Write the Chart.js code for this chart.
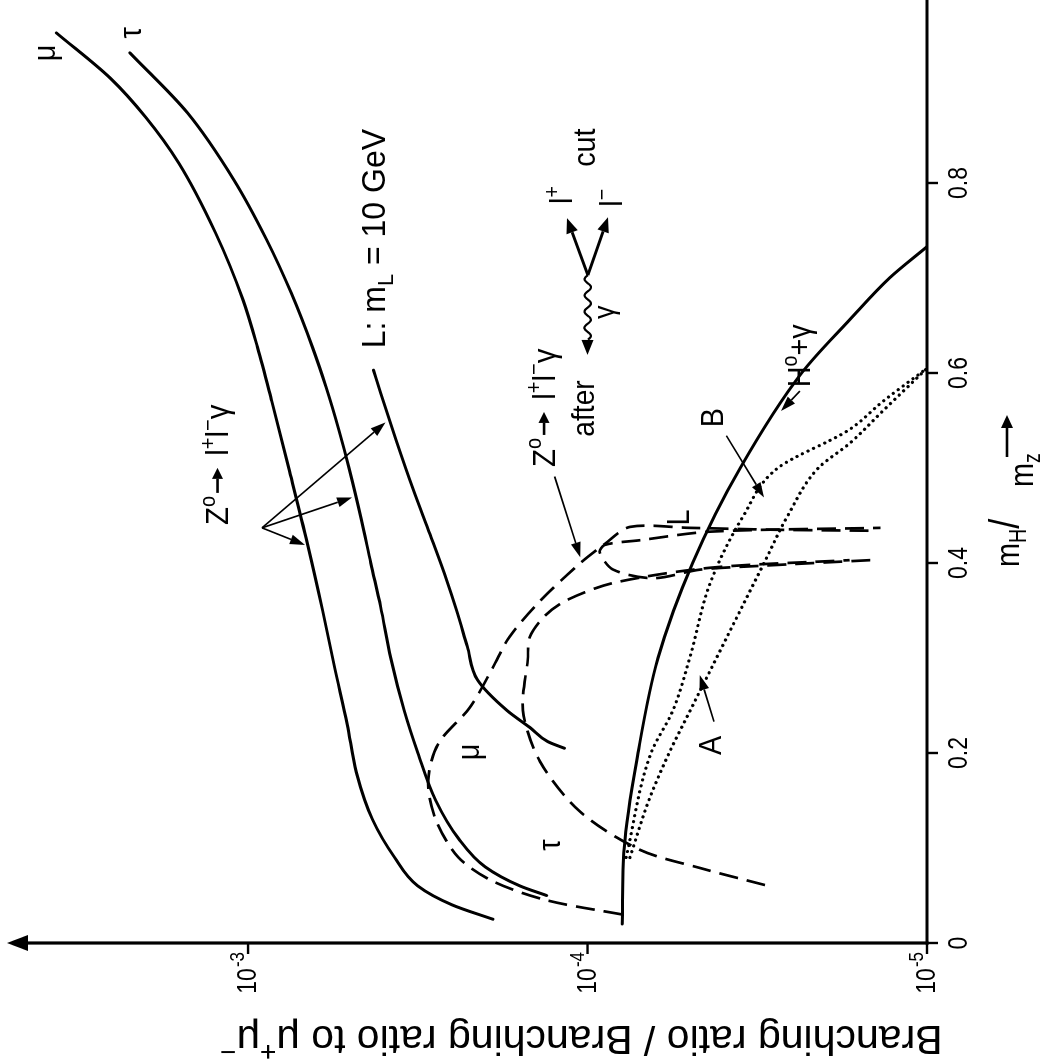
<!DOCTYPE html>
<html>
<head>
<meta charset="utf-8">
<title>Z decay branching ratios</title>
<script src="https://cdn.jsdelivr.net/npm/chart.js@4.4.1/dist/chart.umd.min.js"></script>
<style>
  html, body { margin:0; padding:0; background:#fff; width:1041px; height:1059px; overflow:hidden; }
  /* the figure is laid out landscape and turned a quarter turn counter-clockwise */
  #sheet { position:absolute; left:0; top:0; width:1059px; height:1041px; background:#fff;
           transform-origin:0 0; transform:translate(0,1059px) rotate(-90deg); }
  canvas { display:block; }
</style>
</head>
<body>
<div id="sheet"><canvas id="fig" width="1059" height="1041"></canvas></div>
<script>
// abscissa: m_H / m_Z ; ordinate: branching ratio relative to Z -> mu+ mu-

// Z -> l+ l- gamma (solid)
const muM    = [0.025,0.04,0.06,0.09,0.13,0.18,0.23,0.29,0.35,0.42,0.50,0.57,0.627,0.677,0.747,0.821,0.869,0.91,0.958];
const muBR   = [1.9e-4,2.5e-4,3.16e-4,3.7e-4,4.3e-4,4.8e-4,5.1e-4,5.56e-4,6.03e-4,6.68e-4,7.59e-4,8.51e-4,9.38e-4,1.035e-3,1.245e-3,1.60e-3,2.0e-3,2.54e-3,3.67e-3];
const tauM   = [0.05,0.06,0.08,0.11,0.15,0.2,0.245,0.30,0.354,0.40,0.445,0.50,0.54,0.585,0.627,0.684,0.74,0.803,0.874,0.937];
const tauBR  = [1.32e-4,1.58e-4,2.0e-4,2.4e-4,2.8e-4,3.16e-4,3.47e-4,3.8e-4,4.07e-4,4.35e-4,4.63e-4,5.04e-4,5.4e-4,5.89e-4,6.46e-4,7.46e-4,8.81e-4,1.10e-3,1.51e-3,2.23e-3];
const heavyM  = [0.205,0.212,0.227,0.245,0.277,0.312,0.35,0.382,0.43,0.477,0.53,0.579,0.603];
const heavyBR = [1.17e-4,1.31e-4,1.48e-4,1.73e-4,2.11e-4,2.26e-4,2.43e-4,2.6e-4,2.91e-4,3.26e-4,3.67e-4,4.07e-4,4.27e-4];

// Z -> H0 gamma (solid)
const higgsM  = [0.02,0.1,0.2,0.3,0.4,0.5,0.6,0.656,0.7,0.733];
const higgsBR = [7.9e-5,7.8e-5,7.1e-5,6.2e-5,4.9e-5,3.55e-5,2.34e-5,1.69e-5,1.29e-5,1.0e-5];

// H0 gamma with cuts A and B (dotted)
const cutAM  = [0.09,0.15,0.2,0.25,0.3,0.35,0.4,0.45,0.5,0.526,0.56,0.605];
const cutABR = [7.5e-5,6.6e-5,5.75e-5,4.9e-5,4.17e-5,3.55e-5,3.02e-5,2.57e-5,2.09e-5,1.69e-5,1.35e-5,1.0e-5];
const cutBM  = [0.09,0.2,0.245,0.3,0.379,0.45,0.5,0.54,0.57,0.605];
const cutBBR = [7.7e-5,6.5e-5,5.6e-5,5.0e-5,4.35e-5,3.47e-5,2.75e-5,1.7e-5,1.35e-5,1.0e-5];

// Z -> l+ l- gamma after the cut (dashed)
const muCutM   = [0.03,0.045,0.065,0.09,0.13,0.17,0.21,0.248,0.29,0.322,0.36,0.40,0.42,0.438,0.437,0.435,0.434];
const muCutBR  = [7.9e-5,1.32e-4,1.9e-4,2.4e-4,2.8e-4,2.95e-4,2.75e-4,2.22e-4,1.9e-4,1.7e-4,1.38e-4,1.05e-4,8.9e-5,7.5e-5,5.0e-5,2.8e-5,1.48e-5];
const tauCutM  = [0.061,0.079,0.098,0.138,0.191,0.245,0.298,0.322,0.345,0.361,0.379,0.395,0.403];
const tauCutBR = [3.0e-5,4.67e-5,7.0e-5,1.05e-4,1.38e-4,1.55e-4,1.5e-4,1.48e-4,1.33e-4,1.15e-4,8.4e-5,4.35e-5,1.69e-5];
const heavyCutM  = [0.403,0.397,0.393,0.384,0.393,0.411,0.419,0.424,0.433,0.437];
const heavyCutBR = [1.47e-5,3.1e-5,4.67e-5,6.4e-5,8.4e-5,9.2e-5,8.9e-5,7.0e-5,4.35e-5,1.37e-5];

// axes
const xTicks      = [0, 0.2, 0.4, 0.6, 0.8];
const xTickLabels = ['0', '0.2', '0.4', '0.6', '0.8'];
const yTicks      = [1e-5, 1e-4, 1e-3];
const yTickExps   = ['-5', '-4', '-3'];

const FONT = '"Liberation Sans", Arial, Helvetica, sans-serif';
const INK = '#000';

const pts = (m, b) => m.map((v, i) => ({ x: v, y: b[i] }));
const line = (data, extra) => Object.assign({
  data, showLine: true, pointRadius: 0, borderColor: INK, borderWidth: 3,
  fill: false, cubicInterpolationMode: 'monotone', borderCapStyle: 'round', borderJoinStyle: 'round'
}, extra || {});
const dashed = { borderWidth: 2.7, borderDash: [19, 9], borderCapStyle: 'butt', cubicInterpolationMode: 'default', tension: 0.3 };
const dotted = { borderWidth: 3.2, borderDash: [0.1, 6], borderCapStyle: 'round' };

// ---------- drawing helpers ----------
function arrow(ctx, x1, y1, x2, y2, lw, hl, hw) {
  const a = Math.atan2(y2 - y1, x2 - x1);
  const bx = x2 - hl * Math.cos(a), by = y2 - hl * Math.sin(a);
  ctx.lineWidth = lw;
  ctx.beginPath(); ctx.moveTo(x1, y1); ctx.lineTo(bx, by); ctx.stroke();
  ctx.beginPath(); ctx.moveTo(x2, y2);
  ctx.lineTo(bx + hw * Math.sin(a), by - hw * Math.cos(a));
  ctx.lineTo(bx - hw * Math.sin(a), by + hw * Math.cos(a));
  ctx.closePath(); ctx.fill();
}

function photon(ctx, x1, y1, x2, y2) {
  const dx = x2 - x1, dy = y2 - y1, L = Math.hypot(dx, dy);
  const ux = dx / L, uy = dy / L, nx = -uy, ny = ux;
  const hl = 15, wl = L - hl, amp = 3.2, waves = 4;
  ctx.lineWidth = 2.2;
  ctx.beginPath();
  for (let s = 0; s <= wl; s += 0.5) {
    const o = amp * Math.sin(2 * Math.PI * waves * s / wl);
    ctx.lineTo(x1 + ux * s + nx * o, y1 + uy * s + ny * o);
  }
  ctx.stroke();
  arrow(ctx, x1 + ux * wl, y1 + uy * wl, x2, y2, 2.2, hl, 6);
}

// text runs with super/subscripts and inline arrows
function runs(ctx, parts, x, y, size, sx, align) {
  const items = parts.map(p => typeof p === 'string' ? { t: p } : p);
  const fs = it => size * (it.sup || it.sub ? 0.68 : 1) * (it.scale || 1);
  const width = it => {
    if (it.arrow) return it.arrow + 8;
    ctx.font = fs(it) + 'px ' + FONT;
    return ctx.measureText(it.t).width * sx + (it.gap || 0);
  };
  const total = items.reduce((a, it) => a + width(it), 0);
  let cx = align === 'center' ? x - total / 2 : align === 'right' ? x - total : x;
  for (const it of items) {
    const w = width(it);
    if (it.arrow) {
      arrow(ctx, cx + 3, y - size * 0.33, cx + it.arrow + 4, y - size * 0.33, 2.6, 11, 5.5);
    } else {
      const dy = it.sup ? -size * 0.42 : it.sub ? size * 0.22 : 0;
      ctx.save();
      ctx.translate(cx, y + dy); ctx.scale(sx, 1);
      ctx.font = fs(it) + 'px ' + FONT;
      ctx.textAlign = 'left'; ctx.textBaseline = 'alphabetic';
      ctx.fillText(it.t, 0, 0);
      ctx.restore();
    }
    cx += w;
  }
  return total;
}

// ---------- annotation anchors (data coordinates: m, ratio) ----------
const curveNames = [
  { t: 'μ', m: 0.937, r: 3.99e-3 },
  { t: 'τ', m: 0.958, r: 2.23e-3 },
  { t: 'μ', m: 0.201, r: 2.25e-4 },
  { t: 'τ', m: 0.103, r: 1.30e-4 },
  { t: 'L', m: 0.448, r: 5.4e-5 },
  { t: 'A', m: 0.208, r: 4.35e-5 },
  { t: 'B', m: 0.553, r: 4.3e-5 }
];
const pointers = [
  { from: [0.437, 9.1e-4], to: [0.419, 6.8e-4] },
  { from: [0.437, 9.1e-4], to: [0.469, 4.94e-4] },
  { from: [0.437, 9.1e-4], to: [0.548, 3.94e-4] },
  { from: [0.491, 1.25e-4], to: [0.406, 1.05e-4] },
  { from: [0.233, 4.24e-5], to: [0.282, 4.67e-5] },
  { from: [0.534, 3.9e-5],  to: [0.469, 3.02e-5] },
  { from: [0.581, 2.37e-5], to: [0.560, 2.69e-5] }
];

const decorations = {
  id: 'decorations',
  afterDraw(chart) {
    const ctx = chart.ctx, xs = chart.scales.x, ys = chart.scales.y, area = chart.chartArea;
    const P = (m, r) => [xs.getPixelForValue(m), ys.getPixelForValue(r)];
    const x0 = xs.getPixelForValue(0), y0 = ys.getPixelForValue(1e-5);
    ctx.save();
    ctx.strokeStyle = INK; ctx.fillStyle = INK; ctx.lineCap = 'butt';

    // axes
    ctx.lineWidth = 3.2;
    ctx.beginPath(); ctx.moveTo(x0 - 1.5, y0); ctx.lineTo(chart.width, y0); ctx.stroke();
    const tipY = area.top;
    ctx.beginPath(); ctx.moveTo(x0, y0 + 1.5); ctx.lineTo(x0, tipY + 18); ctx.stroke();
    ctx.beginPath(); ctx.moveTo(x0, tipY); ctx.lineTo(x0 - 8, tipY + 21); ctx.lineTo(x0 + 8, tipY + 21);
    ctx.closePath(); ctx.fill();

    // x ticks
    ctx.lineWidth = 2.4;
    xTicks.forEach((v, i) => {
      const px = xs.getPixelForValue(v);
      ctx.beginPath(); ctx.moveTo(px, y0); ctx.lineTo(px, y0 + 11); ctx.stroke();
      runs(ctx, [xTickLabels[i]], px, y0 + 40, 28, 0.82, 'center');
    });
    // y ticks
    yTicks.forEach((v, i) => {
      const py = ys.getPixelForValue(v);
      ctx.lineWidth = 2.4;
      ctx.beginPath(); ctx.moveTo(x0, py); ctx.lineTo(x0 - 11, py); ctx.stroke();
      const ew = runs(ctx, [yTickExps[i]], x0 - 9, py - 4, 20, 0.85, 'right');
      runs(ctx, ['10'], x0 - 10 - ew, py + 8, 28, 0.82, 'right');
    });

    // axis titles
    runs(ctx, ['m', { t: 'H', sub: true }, { t: '/', scale: 1.25 }], area.left + 376, area.bottom + 92, 34, 0.85, 'left');
    runs(ctx, ['m', { t: 'z', sub: true }], area.left + 456, area.bottom + 106, 34, 0.85, 'left');
    ctx.lineWidth = 2.6;
    arrow(ctx, area.left + 486, area.bottom + 80, area.left + 528, area.bottom + 80, 2.6, 13, 6);

    ctx.save();
    ctx.translate(33, 220);
    ctx.rotate(-Math.PI / 2);
    runs(ctx, ['Branching ratio / Branching ratio to μ', { t: '+', sup: true }, 'μ', { t: '−', sup: true }], 0, 0, 41, 1.0, 'right');
    ctx.restore();

    // curve names
    curveNames.forEach(c => {
      const [px, py] = P(c.m, c.r);
      runs(ctx, [c.t], px, py + 11, 32, 0.9, 'center');
    });

    // pointers
    ctx.lineWidth = 1.7;
    pointers.forEach(p => {
      const [ax, ay] = P(p.from[0], p.from[1]);
      const [bx, by] = P(p.to[0], p.to[1]);
      arrow(ctx, ax, ay, bx, by, 1.7, 15, 5);
    });

    // text labels
    let [tx, ty] = P(0.626, 3.94e-4);
    runs(ctx, ['L: m', { t: 'L', sub: true }, ' = 10 GeV'], tx, ty, 33, 0.97, 'left');

    [tx, ty] = P(0.44, 1.145e-3);
    runs(ctx, ['Z', { t: 'o', sup: true }, { arrow: 24 }, ' l', { t: '+', sup: true }, 'l', { t: '−', sup: true }, 'γ'], tx, ty, 32, 0.92, 'left');

    [tx, ty] = P(0.501, 1.25e-4);
    runs(ctx, ['Z', { t: 'o', sup: true }, { arrow: 22 }, ' l', { t: '+', sup: true }, 'l', { t: '−', sup: true }, 'γ'], tx, ty, 32, 0.92, 'left');
    [tx, ty] = P(0.533, 9.6e-5);
    runs(ctx, ['after'], tx, ty, 32, 0.88, 'left');

    // photon conversion sketch
    const [vx, vy] = P(0.703, 9.98e-5);
    const [gx, gy] = P(0.619, 1.0e-4);
    photon(ctx, vx, vy, gx, gy);
    const [l1x, l1y] = P(0.763, 1.15e-4);
    const [l2x, l2y] = P(0.764, 8.7e-5);
    arrow(ctx, vx, vy, l1x, l1y, 2.8, 15, 6);
    arrow(ctx, vx, vy, l2x, l2y, 2.8, 15, 6);
    [tx, ty] = P(0.778, 1.11e-4);
    runs(ctx, ['l', { t: '+', sup: true }], tx, ty, 32, 0.9, 'left');
    [tx, ty] = P(0.775, 7.9e-5);
    runs(ctx, ['l', { t: '−', sup: true }], tx, ty, 32, 0.9, 'left');
    [tx, ty] = P(0.664, 8.35e-5);
    runs(ctx, ['γ'], tx, ty, 30, 0.9, 'center');
    [tx, ty] = P(0.817, 9.5e-5);
    runs(ctx, ['cut'], tx, ty, 32, 0.9, 'left');

    [tx, ty] = P(0.585, 2.21e-5);
    runs(ctx, ['H', { t: 'o', sup: true }, '+γ'], tx, ty, 32, 0.9, 'left');

    ctx.restore();
  }
};

new Chart(document.getElementById('fig'), {
  type: 'scatter',
  data: {
    datasets: [
      line(pts(muCutM, muCutBR), dashed),
      line(pts(tauCutM, tauCutBR), dashed),
      line(pts(heavyCutM, heavyCutBR), dashed),
      line(pts(cutAM, cutABR), dotted),
      line(pts(cutBM, cutBBR), dotted),
      line(pts(higgsM, higgsBR)),
      line(pts(heavyM, heavyBR)),
      line(pts(tauM, tauBR)),
      line(pts(muM, muBR))
    ]
  },
  options: {
    responsive: false,
    animation: false,
    devicePixelRatio: 1,
    layout: { padding: { left: 116, right: 2.5, top: 7, bottom: 114 } },
    plugins: { legend: { display: false }, tooltip: { enabled: false } },
    scales: {
      x: { type: 'linear', min: 0, max: 0.99, display: false },
      y: { type: 'logarithmic', min: 1e-5, max: 5.13e-3, display: false }
    }
  },
  plugins: [decorations]
});
</script>
</body>
</html>
